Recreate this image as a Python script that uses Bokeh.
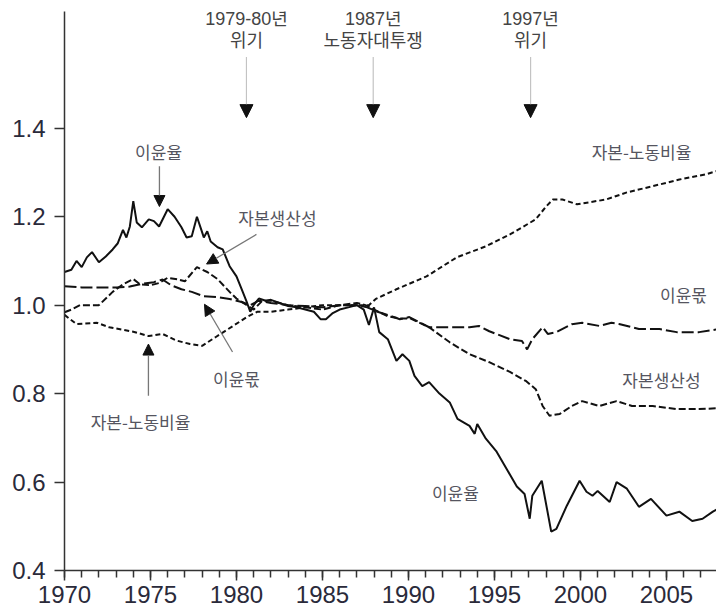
from bokeh.plotting import figure
from bokeh.models import Range1d, FixedTicker, SingleIntervalTicker, Label, Arrow, NormalHead, PrintfTickFormatter
from bokeh.embed import file_html
from bokeh.resources import INLINE

# ---------------- data ----------------
pr_years = [1970.0, 1970.4, 1970.7, 1971.0, 1971.3, 1971.6, 1972.0, 1972.4, 1972.8, 1973.1,
            1973.4, 1973.6, 1973.8, 1974.0, 1974.2, 1974.5, 1974.9, 1975.2, 1975.5, 1976.0,
            1976.4, 1976.8, 1977.1, 1977.4, 1977.7, 1978.0, 1978.1, 1978.3, 1978.5, 1978.9,
            1979.2, 1979.6, 1980.0, 1980.3, 1980.6, 1980.8, 1981.0, 1981.3, 1981.7, 1982.0,
            1982.5, 1983.0, 1983.5, 1984.0, 1984.5, 1984.9, 1985.2, 1985.6, 1986.0, 1986.5,
            1987.0, 1987.4, 1987.7, 1988.0, 1988.3, 1988.8, 1989.3, 1989.65, 1990.05, 1990.35,
            1990.8, 1991.2, 1991.8, 1992.4, 1992.85, 1993.55, 1993.85, 1994.0, 1994.5, 1995.1,
            1995.7, 1996.3, 1996.75, 1997.05, 1997.2, 1997.75, 1998.3, 1998.6, 1999.2, 1999.95,
            2000.35, 2000.7, 2001.0, 2001.7, 2002.1, 2002.7, 2003.4, 2004.1, 2005.0, 2005.75,
            2006.5, 2007.1, 2007.7, 2008.2]
profit_rate = [1.075, 1.080, 1.100, 1.086, 1.108, 1.120, 1.097, 1.110, 1.126, 1.140,
               1.170, 1.153, 1.178, 1.235, 1.187, 1.176, 1.194, 1.190, 1.178, 1.217,
               1.200, 1.176, 1.153, 1.156, 1.200, 1.165, 1.153, 1.167, 1.144, 1.131,
               1.126, 1.088, 1.065, 1.036, 1.007, 0.985, 1.000, 1.015, 1.010, 1.012,
               1.005, 0.998, 0.995, 0.990, 0.985, 0.968, 0.968, 0.982, 0.990, 0.995,
               1.000, 0.990, 0.955, 0.995, 0.939, 0.923, 0.874, 0.889, 0.874, 0.840,
               0.817, 0.826, 0.800, 0.780, 0.743, 0.727, 0.709, 0.731, 0.698, 0.670,
               0.630, 0.590, 0.573, 0.517, 0.569, 0.603, 0.488, 0.494, 0.546, 0.603,
               0.578, 0.569, 0.580, 0.555, 0.600, 0.585, 0.544, 0.562, 0.524, 0.533,
               0.512, 0.517, 0.533, 0.544]

cp_years = [1970.0, 1970.4, 1970.9, 1971.5, 1972.0, 1972.8, 1973.4, 1974.0, 1974.4, 1975.0,
            1975.5, 1976.0, 1976.6, 1977.0, 1977.7, 1978.3, 1978.9, 1979.6, 1980.0, 1980.6,
            1981.0, 1981.5, 1982.0, 1983.0, 1984.0, 1985.0, 1986.0, 1987.0, 1987.5, 1988.0,
            1988.8, 1989.5, 1990.1, 1991.2, 1992.4, 1993.55, 1994.7, 1995.9, 1996.85, 1997.4,
            1997.8, 1998.2, 1998.8, 1999.5, 2000.1, 2001.1, 2002.1, 2003.0, 2004.2, 2005.6,
            2006.9, 2008.1]
capital_productivity = [0.984, 0.990, 1.000, 1.000, 1.000, 1.030, 1.047, 1.059, 1.047, 1.045,
                        1.050, 1.062, 1.058, 1.054, 1.086, 1.075, 1.059, 1.030, 1.015, 1.000,
                        0.990, 1.010, 1.010, 1.000, 0.995, 0.990, 1.000, 1.005, 1.000, 0.990,
                        0.975, 0.970, 0.970, 0.950, 0.916, 0.889, 0.871, 0.849, 0.828, 0.810,
                        0.772, 0.750, 0.754, 0.772, 0.783, 0.772, 0.783, 0.772, 0.772, 0.765,
                        0.765, 0.767]

ps_years = [1970.0, 1971.0, 1972.0, 1973.0, 1973.8, 1974.5, 1975.2, 1975.7, 1976.2, 1976.8,
            1977.4, 1978.1, 1978.9, 1979.6, 1980.3, 1980.8, 1981.3, 1982.0, 1983.0, 1984.0,
            1985.0, 1986.0, 1987.0, 1987.6, 1988.2, 1989.0, 1989.5, 1990.05, 1991.2, 1992.4,
            1993.55, 1994.1, 1994.7, 1995.9, 1996.6, 1996.9, 1997.2, 1997.8, 1998.1, 1998.6,
            1999.5, 2000.1, 2001.1, 2001.8, 2002.3, 2003.4, 2004.6, 2005.6, 2006.9, 2008.1]
profit_share = [1.043, 1.040, 1.040, 1.040, 1.042, 1.048, 1.052, 1.058, 1.045, 1.036,
                1.030, 1.020, 1.018, 1.014, 1.007, 1.000, 1.010, 1.005, 1.000, 0.998,
                0.995, 1.000, 1.000, 0.995, 0.985, 0.975, 0.968, 0.973, 0.950, 0.950,
                0.950, 0.953, 0.941, 0.923, 0.919, 0.900, 0.923, 0.950, 0.935, 0.939,
                0.957, 0.960, 0.953, 0.960, 0.957, 0.946, 0.946, 0.939, 0.939, 0.946]

kl_years = [1970.0, 1970.7, 1971.9, 1972.6, 1974.0, 1974.9, 1975.7, 1976.5, 1977.3, 1978.0,
            1978.8, 1979.8, 1980.6, 1981.2, 1982.0, 1983.0, 1984.0, 1985.0, 1986.0, 1987.0,
            1987.7, 1988.1, 1989.3, 1991.05, 1992.8, 1994.5, 1995.9, 1997.4, 1998.0, 1998.4,
            1998.95, 1999.8, 2001.5, 2002.7, 2004.2, 2005.75, 2007.3, 2008.25]
capital_labour = [0.978, 0.957, 0.960, 0.950, 0.940, 0.930, 0.935, 0.920, 0.912, 0.908,
                  0.928, 0.953, 0.973, 0.985, 0.985, 0.990, 0.995, 1.000, 1.000, 1.000,
                  1.000, 1.014, 1.036, 1.065, 1.108, 1.133, 1.160, 1.194, 1.223, 1.239,
                  1.239, 1.228, 1.239, 1.255, 1.269, 1.284, 1.296, 1.307]

y_ticks = [0.4, 0.6, 0.8, 1.0, 1.2, 1.4]

# ---------------- figure ----------------
p = figure(width=716, height=612, output_backend="svg", toolbar_location=None,
           x_range=Range1d(1970, 2007.91), y_range=Range1d(0.4, 1.664),
           min_border_left=64, min_border_right=0, min_border_top=11, min_border_bottom=42)
p.outline_line_color = None
p.xgrid.visible = False
p.ygrid.visible = False
p.background_fill_color = "white"
p.border_fill_color = "white"

ink = "#111111"
p.line(pr_years, profit_rate, line_color=ink, line_width=2)
p.line(cp_years, capital_productivity, line_color=ink, line_width=2, line_dash="7 3")
p.line(ps_years, profit_share, line_color=ink, line_width=2, line_dash="12 4")
p.line(kl_years, capital_labour, line_color=ink, line_width=2, line_dash="5 3")

# axes
for ax in (p.xaxis[0], p.yaxis[0]):
    ax.axis_line_color = "#333333"
    ax.axis_line_width = 1.5
    ax.major_tick_line_color = "#333333"
    ax.major_tick_line_width = 1.5
    ax.minor_tick_line_color = "#333333"
    ax.minor_tick_line_width = 1.5
    ax.major_tick_in = 0
    ax.minor_tick_in = 0
    ax.major_label_text_font = "Liberation Sans"
    ax.major_label_text_font_size = "24px"
    ax.major_label_text_color = "#2a2a3a"

p.xaxis.ticker = SingleIntervalTicker(interval=5, num_minor_ticks=5)
p.xaxis.major_tick_out = 10
p.xaxis.minor_tick_out = 7
p.xaxis.major_label_standoff = 5

p.yaxis.ticker = FixedTicker(ticks=y_ticks)
p.yaxis.formatter = PrintfTickFormatter(format="%.1f")
p.yaxis.major_tick_out = 10
p.yaxis.minor_tick_line_color = None
p.yaxis.major_label_standoff = 9

# ---------------- annotations ----------------
hdr_font = "Liberation Sans, Noto Sans CJK KR"
kr_font = "Noto Sans CJK KR"
hdr_col = "#444444"
lab_col = "#555560"

def lab(x, y, t, font=kr_font, size="17px", color=lab_col):
    p.add_layout(Label(x=x, y=y, text=t, text_font=font, text_font_size=size,
                       text_color=color, text_align="center", text_baseline="middle"))

# event headers with dotted arrows
events = [(1980.58, "1979-80년", "위기"), (1987.95, "1987년", "노동자대투쟁"), (1997.1, "1997년", "위기")]
for ex, l1, l2 in events:
    lab(ex, 1.646, l1, font=hdr_font, size="18px", color=hdr_col)
    lab(ex, 1.598, l2, font=hdr_font, size="18px", color=hdr_col)
    p.add_layout(Arrow(x_start=ex, y_start=1.560, x_end=ex, y_end=1.424,
                       line_color="#888888", line_width=1.2, line_dash="1 1",
                       end=NormalHead(size=13, fill_color="#111111", line_color="#111111")))

def arr(x0, y0, x1, y1):
    p.add_layout(Arrow(x_start=x0, y_start=y0, x_end=x1, y_end=y1,
                       line_color="#777777", line_width=1.3,
                       end=NormalHead(size=11, fill_color="#111111", line_color="#111111")))

# left-side labels with arrows
lab(1975.47, 1.348, "이윤율")
arr(1975.52, 1.314, 1975.52, 1.223)
lab(1982.38, 1.199, "자본생산성")
arr(1981.16, 1.160, 1978.26, 1.093)
lab(1980.0, 0.835, "이윤몫")
arr(1979.77, 0.894, 1978.14, 1.002)
lab(1974.42, 0.738, "자본-노동비율")
arr(1974.88, 0.795, 1974.88, 0.912)

# right-side labels
lab(2003.55, 1.348, "자본-노동비율")
lab(2005.99, 1.023, "이윤몫")
lab(2004.71, 0.831, "자본생산성")
lab(1992.73, 0.576, "이윤율")

open("out.html", "w").write(file_html(p, INLINE))
